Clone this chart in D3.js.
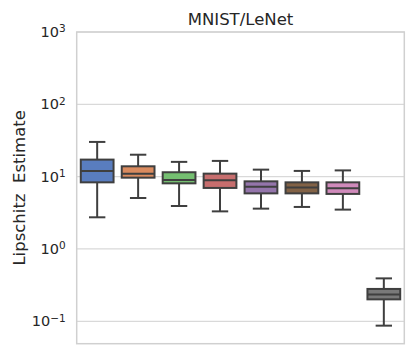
<!DOCTYPE html>
<html lang="en">
<head>
    <meta charset="UTF-8">
    <title>MNIST/LeNet</title>
    <script src="https://cdn.jsdelivr.net/npm/d3@7/dist/d3.min.js"></script>
    <style>
        body { margin: 0; background: #fff; }
        text { font-family: "DejaVu Sans", sans-serif; fill: #262626; }
    </style>
</head>
<body>
<script>
    // 画布大小
    const width = 415;
    const height = 354;

    // 数据
    const categories = ['A', 'B', 'C', 'D', 'E', 'F', 'G', 'H'];
    const colors = ['#4878d0', '#ee854a', '#6acc64', '#d65f5f', '#956cb4', '#8c613c', '#dc7ec0', '#797979'];
    const whiskerLow = [2.74, 5.07, 3.93, 3.31, 3.61, 3.81, 3.50, 0.087];
    const q1 = [8.34, 9.68, 8.08, 6.98, 5.87, 5.87, 5.77, 0.201];
    const median = [12.0, 11.0, 9.0, 8.89, 7.27, 7.05, 6.89, 0.235];
    const q3 = [17.2, 13.9, 11.5, 11.0, 8.61, 8.34, 8.34, 0.280];
    const whiskerHigh = [30.2, 20.1, 16.0, 16.5, 12.5, 12.0, 12.2, 0.392];
    const yTicks = [0.1, 1, 10, 100, 1000];

    const margin = {top: 32, right: 10.7, bottom: 10.3, left: 76.7};
    const innerW = width - margin.left - margin.right;
    const innerH = height - margin.top - margin.bottom;

    let svg = d3.select('body')
        .append('svg')
        .attr('width', width)
        .attr('height', height);

    let g = svg.append('g')
        .attr('transform', `translate(${margin.left}, ${margin.top})`);

    // 比例尺
    let xScale = d3.scaleBand()
        .domain(categories)
        .range([0, innerW])
        .paddingInner(0.2)
        .paddingOuter(0.1);

    let yScale = d3.scaleLog()
        .domain([Math.pow(10, -1.31), 1000])
        .range([innerH, 0]);

    // 网格线
    g.append('g')
        .selectAll('line')
        .data(yTicks)
        .enter()
        .append('line')
        .attr('x1', 0)
        .attr('x2', innerW)
        .attr('y1', d => yScale(d))
        .attr('y2', d => yScale(d))
        .attr('stroke', '#d9d9d9')
        .attr('stroke-width', 1.2);

    // 边框
    g.append('rect')
        .attr('x', 0)
        .attr('y', 0)
        .attr('width', innerW)
        .attr('height', innerH)
        .attr('fill', 'none')
        .attr('stroke', '#d0d0d0')
        .attr('stroke-width', 1.5);

    // y轴
    let yAxis = d3.axisLeft(yScale)
        .tickValues(yTicks)
        .tickSize(0)
        .tickPadding(11)
        .tickFormat(() => '');

    let yG = g.append('g').call(yAxis);
    yG.select('.domain').remove();
    yG.selectAll('.tick text')
        .attr('font-size', 14.5)
        .attr('fill', '#262626')
        .style('font-family', '"DejaVu Sans", sans-serif')
        .each(function (d) {
            const t = d3.select(this);
            t.append('tspan').text('10');
            t.append('tspan')
                .attr('dy', '-0.45em')
                .attr('font-size', '10.5')
                .text(String(Math.round(Math.log10(d))).replace('-', '\u2212'));
        });

    const edge = '#3f3f3f';
    const bw = xScale.bandwidth();

    // 箱线图
    let boxes = g.selectAll('.box')
        .data(categories)
        .enter()
        .append('g')
        .attr('class', 'box')
        .attr('transform', d => `translate(${xScale(d)}, 0)`);

    // 须线
    boxes.append('line')
        .attr('x1', bw / 2).attr('x2', bw / 2)
        .attr('y1', (d, i) => yScale(whiskerHigh[i]))
        .attr('y2', (d, i) => yScale(q3[i]))
        .attr('stroke', edge).attr('stroke-width', 2);
    boxes.append('line')
        .attr('x1', bw / 2).attr('x2', bw / 2)
        .attr('y1', (d, i) => yScale(q1[i]))
        .attr('y2', (d, i) => yScale(whiskerLow[i]))
        .attr('stroke', edge).attr('stroke-width', 2);

    // 须线端点
    boxes.append('line')
        .attr('x1', bw / 4).attr('x2', bw * 3 / 4)
        .attr('y1', (d, i) => yScale(whiskerHigh[i]))
        .attr('y2', (d, i) => yScale(whiskerHigh[i]))
        .attr('stroke', edge).attr('stroke-width', 2);
    boxes.append('line')
        .attr('x1', bw / 4).attr('x2', bw * 3 / 4)
        .attr('y1', (d, i) => yScale(whiskerLow[i]))
        .attr('y2', (d, i) => yScale(whiskerLow[i]))
        .attr('stroke', edge).attr('stroke-width', 2);

    // 箱体 (颜色饱和度 0.75)
    boxes.append('rect')
        .attr('x', 0)
        .attr('width', bw)
        .attr('y', (d, i) => yScale(q3[i]))
        .attr('height', (d, i) => yScale(q1[i]) - yScale(q3[i]))
        .attr('fill', (d, i) => {
            let c = d3.hsl(colors[i]);
            c.s *= 0.75;
            return c.formatHex();
        })
        .attr('stroke', edge)
        .attr('stroke-width', 2);

    // 中位数
    boxes.append('line')
        .attr('x1', 0).attr('x2', bw)
        .attr('y1', (d, i) => yScale(median[i]))
        .attr('y2', (d, i) => yScale(median[i]))
        .attr('stroke', edge).attr('stroke-width', 2);

    // 标题
    svg.append('text')
        .attr('x', margin.left + innerW / 2)
        .attr('y', 25)
        .attr('text-anchor', 'middle')
        .attr('font-size', 16.5)
        .text('MNIST/LeNet');

    // y轴标题
    svg.append('text')
        .attr('transform', `translate(25, ${margin.top + innerH / 2}) rotate(-90)`)
        .attr('text-anchor', 'middle')
        .attr('font-size', 16.5)
        .style('white-space', 'pre')
        .text('Lipschitz  Estimate');
</script>
</body>
</html>
